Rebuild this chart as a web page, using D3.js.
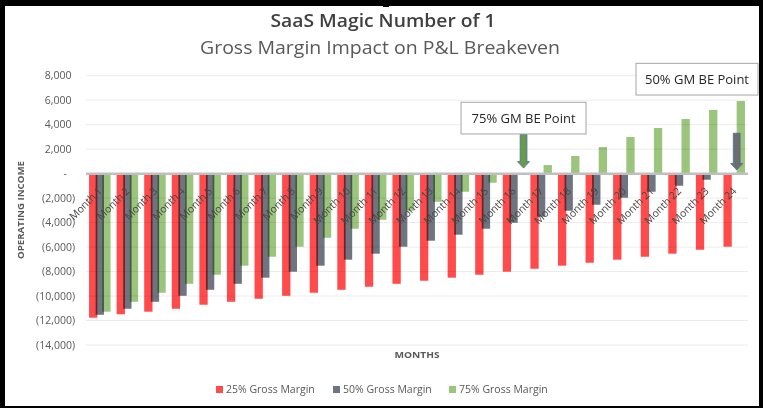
<!DOCTYPE html>
<html><head><meta charset="utf-8">
<script src="https://cdn.jsdelivr.net/npm/d3@7/dist/d3.min.js"></script>
<style>
body{margin:0;background:#fff}
svg{display:block}
text{font-family:"Open Sans","Noto Sans",sans-serif}
</style>
</head><body>
<svg id="c" width="763" height="408"></svg>
<script>
const months = ["Month 1","Month 2","Month 3","Month 4","Month 5","Month 6","Month 7","Month 8","Month 9","Month 10","Month 11","Month 12",
  "Month 13","Month 14","Month 15","Month 16","Month 17","Month 18","Month 19","Month 20","Month 21","Month 22","Month 23","Month 24"];
const gm25 = [-11770,-11490,-11280,-11040,-10710,-10470,-10220,-9980,-9730,-9490,-9240,-9000,
  -8750,-8500,-8260,-8010,-7770,-7520,-7280,-7030,-6790,-6540,-6220,-5970];
const gm50 = [-11530,-11040,-10470,-9980,-9490,-9000,-8500,-8010,-7520,-7030,-6540,-5970,
  -5480,-4990,-4500,-4010,-3520,-3030,-2540,-1970,-1480,-990,-500,-10];
const gm75 = [-11280,-10470,-9730,-9000,-8260,-7520,-6790,-5970,-5240,-4500,-3770,-3030,
  -2300,-1480,-740,-10,700,1440,2170,2990,3730,4460,5200,5930];
const yTicks = [8000,6000,4000,2000,0,-2000,-4000,-6000,-8000,-10000,-12000,-14000];
const seriesNames = ["25% Gross Margin","50% Gross Margin","75% Gross Margin"];
const seriesColors = ["#ff4b4b","#6e7580","#9bc47c"];
const titleText = "SaaS Magic Number of 1";
const subtitleText = "Gross Margin Impact on P&L Breakeven";
const yTitle = "OPERATING INCOME";
const xTitle = "MONTHS";
const calloutLabels = ["75% GM BE Point","50% GM BE Point"];
const calloutMonths = ["Month 16","Month 24"];

const svg = d3.select("#c");
const W = 763, H = 408;

// frame
svg.append("rect").attr("width",W).attr("height",H).attr("fill","#000");
svg.append("rect").attr("x",5).attr("y",6).attr("width",754).attr("height",400).attr("fill","#fff");
svg.append("rect").attr("x",383).attr("y",0).attr("width",6).attr("height",7).attr("fill","#000");

const x = d3.scaleBand().domain(months).range([86,748]).padding(0);
const y = d3.scaleLinear().domain([-14000,8000]).range([345,75.7]);
const bw = x.bandwidth();
const barW = 8.3, step = 6.6;
const groupOff = (bw - (2*step + barW))/2;

// gridlines
svg.append("g").selectAll("line").data(yTicks.filter(d=>d!==0)).join("line")
  .attr("x1",86).attr("x2",748).attr("y1",d=>y(d)).attr("y2",d=>y(d))
  .attr("stroke","#ececec").attr("stroke-width",1);

// y tick labels
const fmt = d3.format(",");
svg.append("g").selectAll("text").data(yTicks).join("text")
  .attr("x",d=> d<0 ? 75 : (d===0 ? 67 : 71.5))
  .attr("y",d=>y(d)).attr("dy","0.35em")
  .attr("text-anchor","end").attr("font-size",10.5).attr("fill","#595959")
  .text(d=> d<0 ? "("+fmt(-d)+")" : (d===0 ? "-" : fmt(d)));

// bars
const series = [gm25, gm50, gm75];
series.forEach((vals,i)=>{
  svg.append("g").selectAll("rect").data(vals).join("rect")
    .attr("x",(d,j)=>x(months[j]) + groupOff + i*step)
    .attr("width",barW)
    .attr("y",d=>y(Math.max(0,d)))
    .attr("height",d=>Math.abs(y(d)-y(0)))
    .attr("fill",seriesColors[i])
    .style("mix-blend-mode","multiply");
});

// zero line
svg.append("line").attr("x1",86).attr("x2",748).attr("y1",y(0)).attr("y2",y(0))
  .attr("stroke","#bfbfbf").attr("stroke-width",2.5);

// month labels
svg.append("g").selectAll("text").data(months).join("text")
  .attr("transform",d=>`translate(${x(d)+bw/2+3},${y(0)+18}) rotate(-45)`)
  .attr("text-anchor","end").attr("font-size",10.5).attr("fill","#474747")
  .text(d=>d);

// titles
svg.append("text").attr("x",383).attr("y",27).attr("text-anchor","middle")
  .attr("font-size",18).attr("font-weight",600).attr("fill","#404040")
  .attr("textLength",225).attr("lengthAdjust","spacingAndGlyphs").text(titleText);
svg.append("text").attr("x",380).attr("y",54).attr("text-anchor","middle")
  .attr("font-size",18).attr("fill","#595959")
  .attr("textLength",360).attr("lengthAdjust","spacingAndGlyphs").text(subtitleText);

svg.append("text").attr("transform","translate(24,210) rotate(-90)").attr("text-anchor","middle")
  .attr("font-size",9.5).attr("font-weight",700).attr("fill","#595959")
  .attr("textLength",98).attr("lengthAdjust","spacingAndGlyphs").text(yTitle);
svg.append("text").attr("x",417).attr("y",358).attr("text-anchor","middle")
  .attr("font-size",9.5).attr("font-weight",700).attr("fill","#595959")
  .attr("textLength",45).attr("lengthAdjust","spacingAndGlyphs").text(xTitle);

// legend
const legX = [216,333,449];
seriesNames.forEach((n,i)=>{
  svg.append("rect").attr("x",legX[i]).attr("y",386).attr("width",7).attr("height",7).attr("fill",seriesColors[i]);
  svg.append("text").attr("x",legX[i]+10).attr("y",393).attr("font-size",10.5).attr("fill","#595959").text(n);
});

// arrows + callouts
function arrow(cx, yTop, yTip, fill){
  const sw = 3.4, hw = 6, hl = 6.5;
  const p = `M${cx-sw},${yTop}L${cx+sw},${yTop}L${cx+sw},${yTip-hl}L${cx+hw},${yTip-hl}L${cx},${yTip}L${cx-hw},${yTip-hl}L${cx-sw},${yTip-hl}Z`;
  svg.append("path").attr("d",p).attr("fill",fill).attr("stroke","#41719c").attr("stroke-width",0.8);
}
const a1 = x(calloutMonths[0]) + bw/2 + 10;
arrow(a1, y(3200), y(450), "#6a9a4c");
const a2 = x(calloutMonths[1]) + bw/2 + 2.5;
arrow(a2, y(3300), y(300), "#6e6e6e");

function callout(cx, yT, yB, w, label){
  svg.append("rect").attr("x",cx-w/2).attr("y",yT).attr("width",w).attr("height",yB-yT)
    .attr("fill","#fff").attr("stroke","#a6a6a6").attr("stroke-width",1);
  svg.append("text").attr("x",cx).attr("y",(yT+yB)/2).attr("dy","0.35em").attr("text-anchor","middle")
    .attr("font-size",13).attr("fill","#262626").text(label);
}
callout(a1, y(5830), y(3240), 125, calloutLabels[0]);
callout(697, y(9010), y(6420), 122, calloutLabels[1]);
</script>
</body></html>
